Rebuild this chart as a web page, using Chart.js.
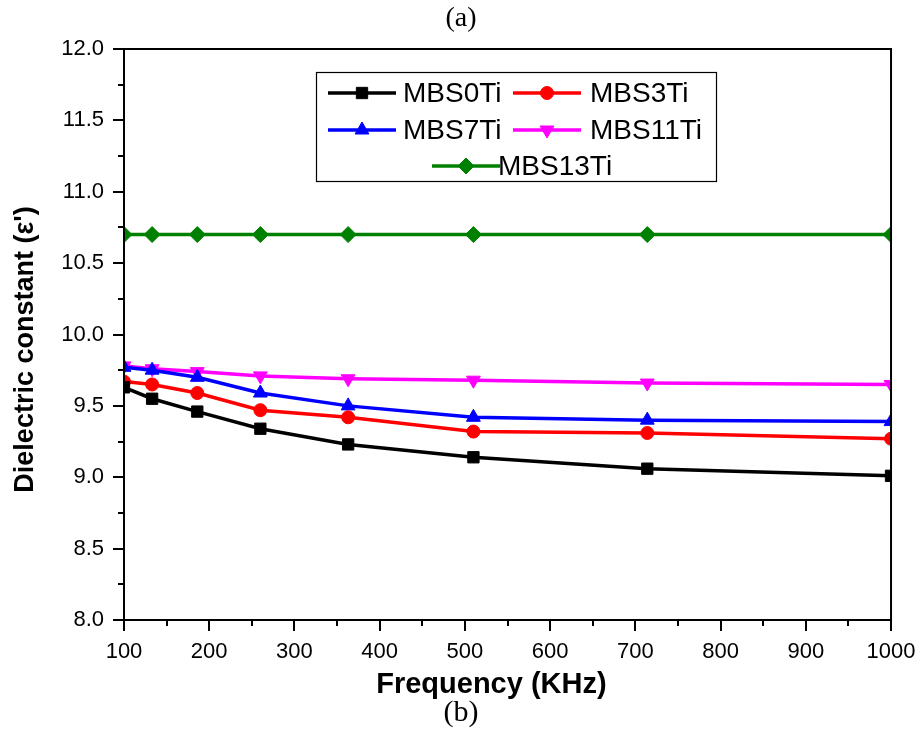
<!DOCTYPE html>
<html>
<head>
<meta charset="utf-8">
<title>Dielectric constant vs frequency</title>
<script src="https://cdn.jsdelivr.net/npm/chart.js@4.4.0/dist/chart.umd.min.js"></script>
<style>
  html, body { margin: 0; padding: 0; background: #fff; }
</style>
</head>
<body>
<canvas id="mainChart" width="922" height="744"></canvas>
<script>
// values
const frequencies = [100, 133, 186, 260, 363, 510, 714, 1000];
const mbs0Ti  = [9.63, 9.55, 9.46, 9.34, 9.23, 9.14, 9.06, 9.01];
const mbs3Ti  = [9.67, 9.65, 9.59, 9.47, 9.42, 9.32, 9.31, 9.27];
const mbs7Ti  = [9.77, 9.75, 9.70, 9.59, 9.50, 9.42, 9.40, 9.39];
const mbs11Ti = [9.78, 9.76, 9.74, 9.71, 9.69, 9.68, 9.66, 9.65];
const mbs13Ti = [10.70, 10.70, 10.70, 10.70, 10.70, 10.70, 10.70, 10.70];
const seriesLabels = ['MBS0Ti', 'MBS3Ti', 'MBS7Ti', 'MBS11Ti', 'MBS13Ti'];

const SANS = "'Liberation Sans', Arial, sans-serif";
const SERIF = "'Liberation Serif', 'Times New Roman', serif";
Chart.defaults.font.family = SANS;
Chart.defaults.color = '#000';

const toPoints = vals => vals.map((v, i) => ({ x: frequencies[i], y: v }));

function series(label, values, color, pointStyle, radius, rotation) {
  return {
    label, data: toPoints(values),
    borderColor: color, backgroundColor: color, borderWidth: 3.5,
    pointStyle, pointRadius: radius, pointHoverRadius: radius, pointRotation: rotation || 0,
    pointBorderWidth: 1, pointBackgroundColor: color, pointBorderColor: color,
    tension: 0, fill: false,
  };
}

// frame round the plot + outward major/minor ticks on left and bottom
const axisFrame = {
  id: 'axisFrame',
  afterDraw(chart) {
    const { ctx, chartArea: a, scales: { x, y } } = chart;
    ctx.save();
    ctx.strokeStyle = '#000';
    ctx.lineWidth = 2;
    ctx.strokeRect(a.left, a.top, a.right - a.left, a.bottom - a.top);
    ctx.beginPath();
    for (let v = x.min; v <= x.max + 1e-6; v += 50) {
      const px = Math.round(x.getPixelForValue(v));
      const len = v % 100 === 0 ? 11 : 6;
      ctx.moveTo(px, a.bottom); ctx.lineTo(px, a.bottom + len);
    }
    for (let v = y.min; v <= y.max + 1e-6; v += 0.25) {
      const py = Math.round(y.getPixelForValue(v));
      const major = Math.abs(v * 2 - Math.round(v * 2)) < 1e-6;
      ctx.moveTo(a.left, py); ctx.lineTo(a.left - (major ? 11 : 6), py);
    }
    ctx.stroke();
    ctx.restore();
  }
};

// boxed legend, two items per row, last one centred
const boxedLegend = {
  id: 'boxedLegend',
  afterDraw(chart) {
    const { ctx } = chart;
    const slots = [[328, 93, 403], [513, 93, 590], [328, 130, 403], [513, 130, 590], [432, 166, 498]];
    ctx.save();
    ctx.strokeStyle = '#000';
    ctx.lineWidth = 1.2;
    ctx.strokeRect(316.5, 72.5, 400, 109);
    chart.data.datasets.forEach((ds, i) => {
      const [x, y, tx] = slots[i];
      ctx.strokeStyle = ds.borderColor;
      ctx.lineWidth = ds.borderWidth;
      ctx.beginPath(); ctx.moveTo(x, y); ctx.lineTo(x + 68, y); ctx.stroke();
      ctx.fillStyle = ds.backgroundColor;
      ctx.lineWidth = 1;
      Chart.helpers.drawPoint(ctx, { pointStyle: ds.pointStyle, radius: ds.pointRadius, rotation: ds.pointRotation, borderWidth: 1 }, x + 34, y);
      ctx.fillStyle = '#000';
      ctx.font = '28px ' + SANS;
      ctx.textBaseline = 'middle';
      ctx.textAlign = 'left';
      ctx.fillText(ds.label, tx, y + 1);
    });
    ctx.restore();
  }
};

new Chart(document.getElementById('mainChart'), {
  type: 'line',
  data: {
    datasets: [
      series(seriesLabels[0], mbs0Ti,  '#000000', 'rect', 8),
      series(seriesLabels[1], mbs3Ti,  '#ff0000', 'circle', 6.5),
      series(seriesLabels[2], mbs7Ti,  '#0000ff', 'triangle', 8),
      series(seriesLabels[3], mbs11Ti, '#ff00ff', 'triangle', 8, 180),
      series(seriesLabels[4], mbs13Ti, '#008000', 'rectRot', 8),
    ],
  },
  options: {
    responsive: false, animation: false,
    layout: { padding: 0 },
    plugins: {
      legend: { display: false },
      tooltip: { enabled: false },
      title: { display: true, text: '(a)', color: '#000', font: { family: SERIF, size: 28, weight: 'normal', lineHeight: 1 }, padding: { top: 5, bottom: 16 } },
      subtitle: { display: true, position: 'bottom', text: '(b)', color: '#000', font: { family: SERIF, size: 30, weight: 'normal', lineHeight: 1 }, padding: { top: 0, bottom: 16 } },
    },
    scales: {
      x: {
        type: 'linear', min: 100, max: 1000,
        grid: { display: false, drawTicks: true, tickLength: 12 }, border: { display: false },
        ticks: { stepSize: 100, padding: 6.5, font: { size: 22 }, color: '#000', maxRotation: 0, callback: v => String(v) },
        title: { display: true, text: 'Frequency (KHz)\u00a0\u00a0\u00a0\u00a0', font: { size: 29, weight: 'bold', lineHeight: 0.9 }, color: '#000', padding: { top: 0, bottom: 0 } },
        afterFit: s => { s.height = 78; },
      },
      y: {
        min: 8, max: 12,
        grid: { display: false, drawTicks: false }, border: { display: false },
        ticks: { stepSize: 0.5, padding: 20, font: { size: 22 }, color: '#000', callback: v => v.toFixed(1) },
        title: { display: true, text: "Dielectric constant (\u03b5')\u00a0\u00a0\u00a0\u00a0", font: { size: 27, weight: 'bold' }, color: '#000', padding: { top: 9, bottom: 0 } },
        afterFit: s => { s.width = 124; },
      },
    },
  },
  plugins: [axisFrame, boxedLegend],
});
</script>
</body>
</html>
